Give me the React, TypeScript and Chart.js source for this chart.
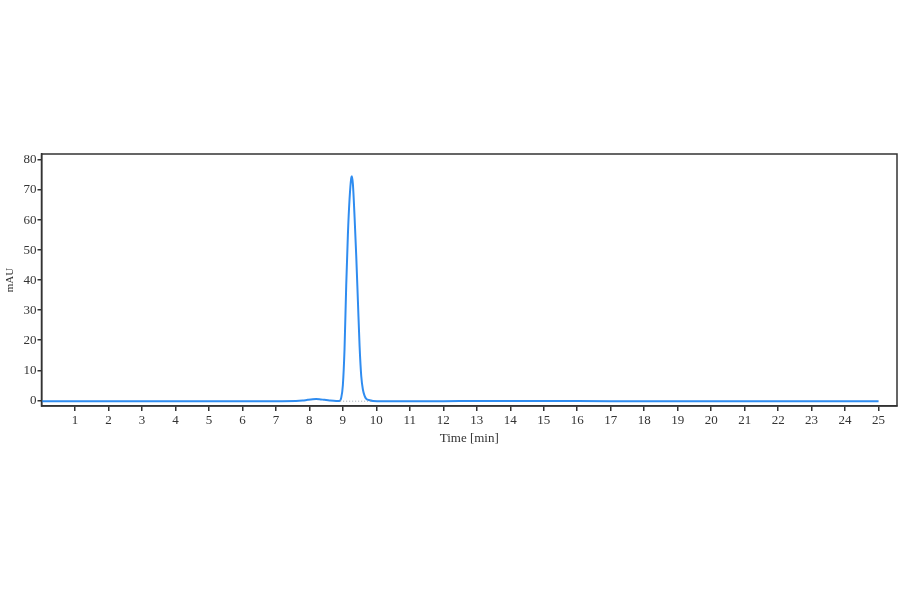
import React, { useEffect, useRef } from 'react';
import { Chart, registerables } from 'chart.js';

Chart.register(...registerables);

// chromatogram trace (min, mAU)
const times = [
  0, 2, 4, 6, 7, 7.6, 7.8, 7.95, 8.1, 8.2, 8.3, 8.45, 8.6, 8.8, 8.9,
  8.95, 9.0, 9.05, 9.1, 9.15, 9.2, 9.25, 9.27, 9.3, 9.35, 9.4, 9.45,
  9.5, 9.55, 9.6, 9.65, 9.7, 9.8, 9.9, 10.2, 12, 13, 14, 15, 17, 20, 23, 25,
];
const signal = [
  -0.3, -0.3, -0.3, -0.3, -0.3, -0.25, -0.1, 0.15, 0.35, 0.4, 0.35, 0.15, -0.05, -0.2, -0.2,
  0.8, 5, 17, 38, 55, 67, 74, 74.6, 72, 61, 48, 33,
  18, 8, 3.5, 1.5, 0.5, 0.0, -0.2, -0.3, -0.3, -0.2, -0.2, -0.2, -0.3, -0.3, -0.3, -0.3,
];

// integration baseline under the main peak
const baseTimes = [8.92, 9.85];
const baseValues = [-0.3, -0.3];

const xTicks = Array.from({ length: 25 }, (_, i) => i + 1);
const yTicks = [0, 10, 20, 30, 40, 50, 60, 70, 80];

const frame = {
  id: 'frame',
  afterDraw(chart: Chart) {
    const { ctx, chartArea: a } = chart;
    ctx.save();
    ctx.strokeStyle = '#333';
    ctx.lineWidth = 1.5;
    ctx.strokeRect(a.left, a.top, a.right - a.left, a.bottom - a.top);
    ctx.restore();
  },
};

const App: React.FC = () => {
  const canvasRef = useRef<HTMLCanvasElement>(null);

  useEffect(() => {
    if (!canvasRef.current) return;
    const font = { family: '"Liberation Serif", "DejaVu Serif", serif', size: 13 };

    const chart = new Chart(canvasRef.current, {
      type: 'line',
      data: {
        datasets: [
          {
            data: baseTimes.map((t, i) => ({ x: t, y: baseValues[i] })),
            borderColor: '#9aa4b0',
            borderWidth: 1,
            borderDash: [1, 2],
            pointRadius: 0,
          },
          {
            data: times.map((t, i) => ({ x: t, y: signal[i] })),
            borderColor: '#2f8cf0',
            borderWidth: 2,
            pointRadius: 0,
            cubicInterpolationMode: 'monotone',
          },
        ],
      },
      options: {
        responsive: false,
        animation: false,
        layout: { padding: { left: 1.5, top: 154, right: 3, bottom: 148 } },
        plugins: { legend: { display: false }, tooltip: { enabled: false } },
        scales: {
          x: {
            type: 'linear',
            min: 0,
            max: 25.55,
            afterBuildTicks: (s: any) => {
              s.ticks = xTicks.map((v) => ({ value: v }));
            },
            afterFit: (s: any) => {
              s.height = 40;
            },
            grid: { drawOnChartArea: false, color: '#333', tickLength: 5, lineWidth: 1.5 },
            border: { color: '#333', width: 1.5 },
            ticks: { color: '#333', font, padding: 2, maxRotation: 0, autoSkip: false },
            title: { display: true, text: 'Time [min]', color: '#333', font, padding: 0 },
          },
          y: {
            min: -1.9,
            max: 82,
            afterBuildTicks: (s: any) => {
              s.ticks = yTicks.map((v) => ({ value: v }));
            },
            afterFit: (s: any) => {
              s.width = 40;
            },
            grid: { drawOnChartArea: false, color: '#333', tickLength: 4, lineWidth: 1.5 },
            border: { color: '#333', width: 1.5 },
            ticks: { color: '#333', font, padding: 1 },
            title: { display: true, text: 'mAU', color: '#333', font: { ...font, size: 11 }, padding: 2 },
          },
        },
      },
      plugins: [frame],
    });

    return () => chart.destroy();
  }, []);

  return (
    <div style={{ position: 'absolute', left: 0, top: 0, width: 900, height: 594, background: '#fff' }}>
      <canvas ref={canvasRef} width={900} height={594} />
    </div>
  );
};

export default App;
